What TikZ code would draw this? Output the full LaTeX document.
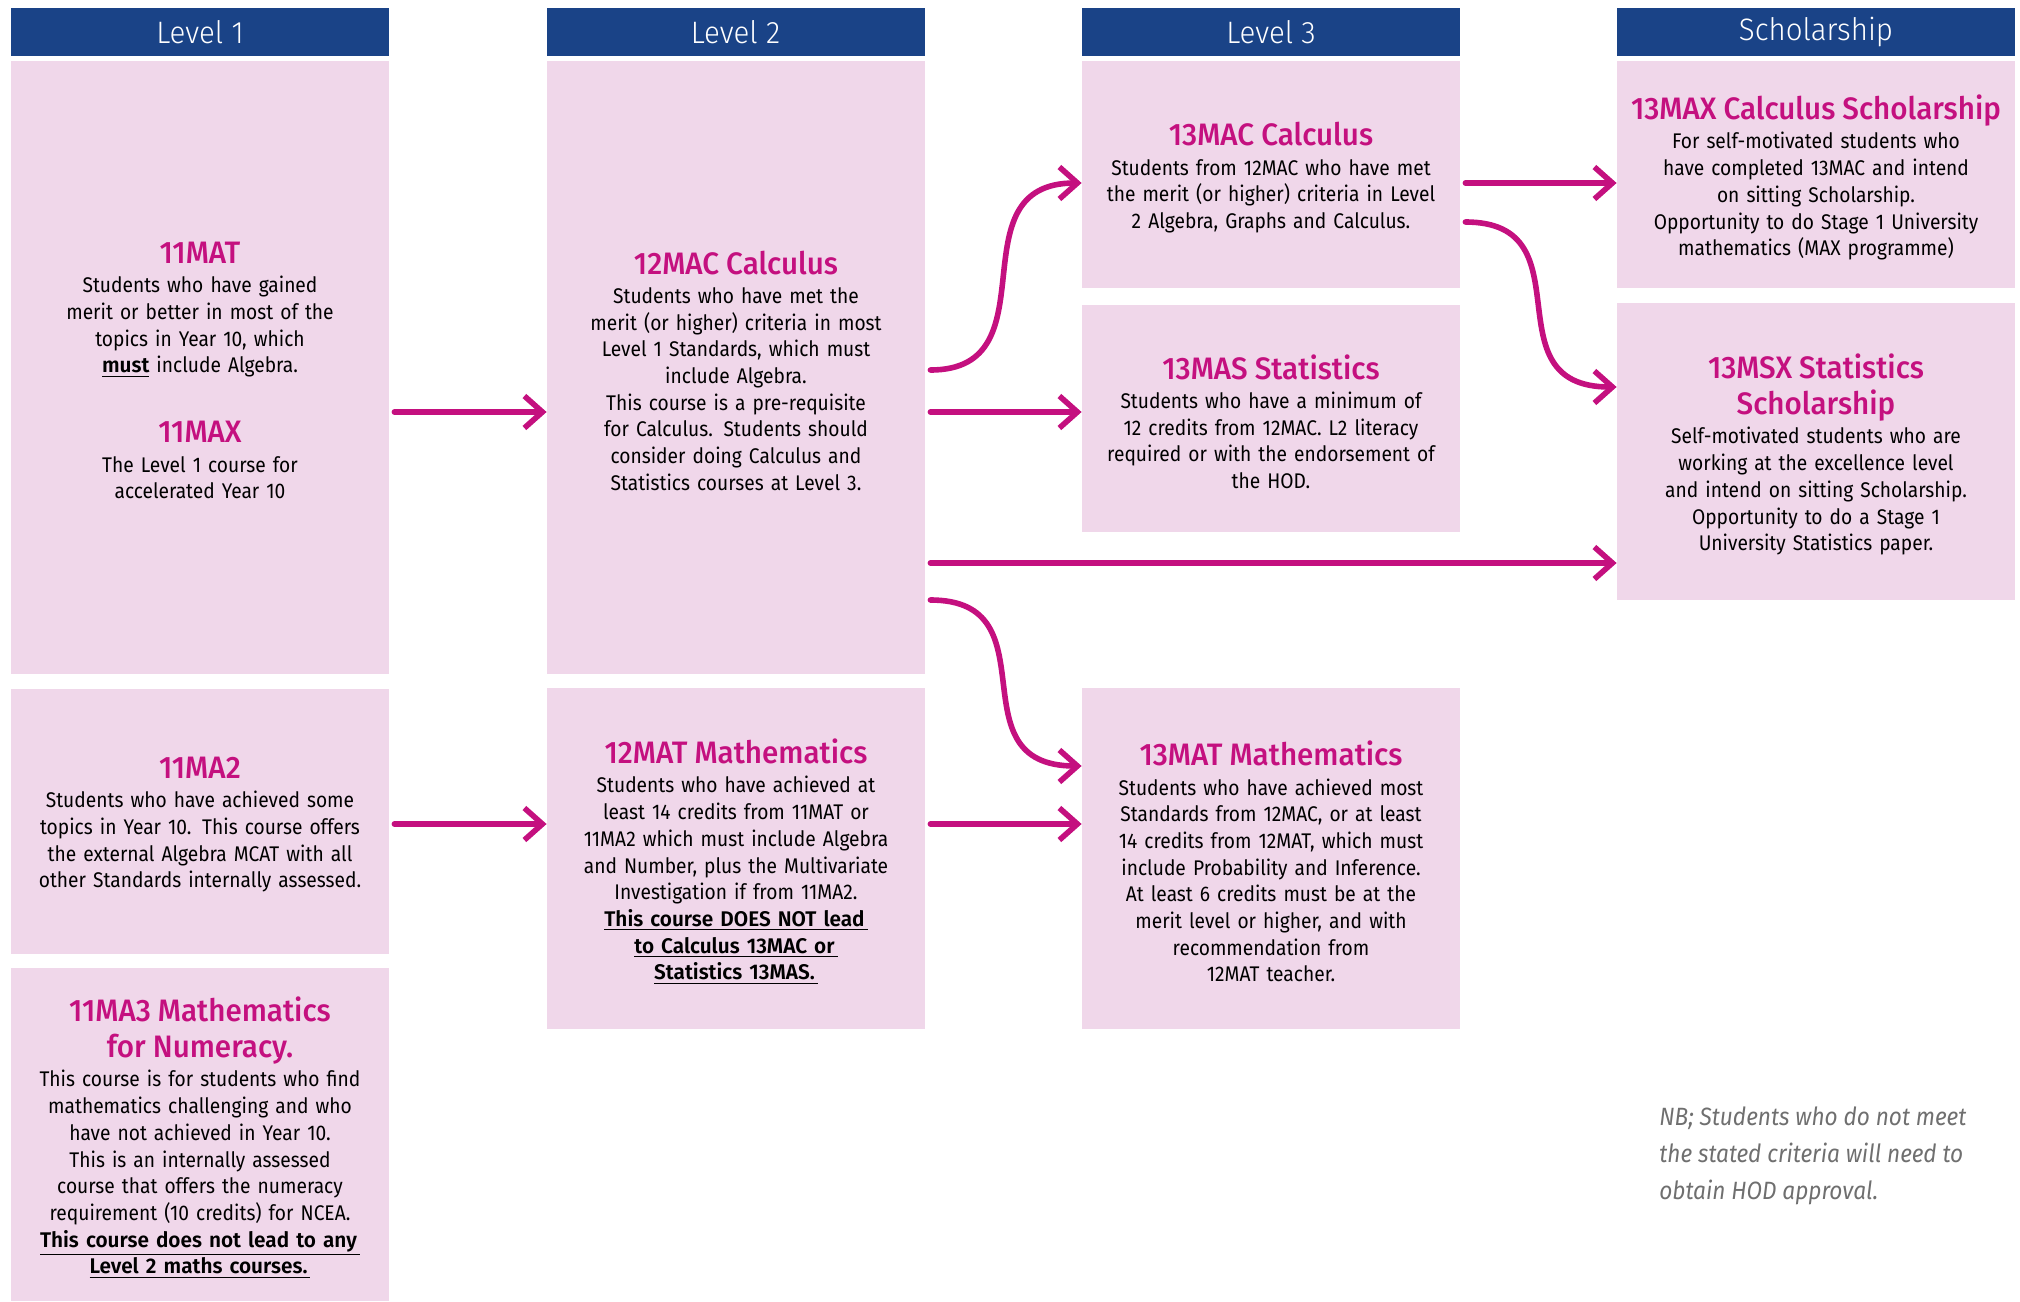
\documentclass[tikz,border=0pt]{standalone}
\usepackage{fontspec}
\setmainfont{Fira Sans}[FakeStretch=0.905]
\newfontfamily\titlefam{Fira Sans Medium}[FakeStretch=0.955]
\newfontfamily\hdrfam{Fira Sans Light}[FakeStretch=0.95]
\newfontfamily\ulfam{Fira Sans SemiBold}[FakeStretch=0.98]
\usetikzlibrary{arrows.meta}
\definecolor{navy}{HTML}{1A4387}
\definecolor{pinkbg}{HTML}{F0D7EA}
\definecolor{mag}{HTML}{C4107F}
\definecolor{nbgray}{HTML}{6F6F6F}
\newcommand\bodyfont{\fontsize{10.6}{13.35}\selectfont}
\newcommand\ttl[1]{{\color{mag}\titlefam\fontsize{15.5}{18}\selectfont #1\par}\vspace{1.2pt}}
\newcommand\ul[1]{\underline{{\ulfam #1}\hspace{1.5pt}}}
\begin{document}
\begin{tikzpicture}[x=0.5pt,y=-0.5pt,
  hdr/.style={fill=navy, text=white, minimum height=24pt, minimum width=189pt, inner sep=0pt, font=\hdrfam\fontsize{15.5}{18}\selectfont},
  colbox/.style={fill=pinkbg, inner sep=0pt, minimum width=189pt},
  schbox/.style={colbox, minimum width=199pt},
  txt/.style={inner sep=0pt, align=center, text width=186pt, font=\bodyfont},
  schtxt/.style={txt, text width=197pt},
  arr/.style={draw=mag, line width=2.8pt, line cap=round, shorten <=2.5pt,
    -{Straight Barb[length=9pt,width=16pt]}}
]
\useasboundingbox (0,0) rectangle (2020,1302);
% headers
\node[hdr] (h1) at (200,32) {Level 1};
\node[hdr] (h2) at (735.5,32) {Level 2};
\node[hdr] (h3) at (1271,32) {Level 3};
\node[hdr, minimum width=199pt] (h4) at (1816,32) {Scholarship};
% boxes
\node[colbox, minimum height=306.5pt] (mat11) at (200,367.5) {};
\node[colbox, minimum height=132.5pt] (ma2) at (200,821.5) {};
\node[colbox, minimum height=166.5pt] (ma3) at (200,1134.5) {};
\node[colbox, minimum height=306.5pt] (mac12) at (736,367.5) {};
\node[colbox, minimum height=170.5pt] (mat12) at (736,858.5) {};
\node[colbox, minimum height=113.5pt] (mac13) at (1271,174.5) {};
\node[colbox, minimum height=113.5pt] (mas13) at (1271,418.5) {};
\node[colbox, minimum height=170.5pt] (mat13) at (1271,858.5) {};
\node[schbox, minimum height=113.5pt] (max13) at (1816,174.5) {};
\node[schbox, minimum height=148.5pt] (msx13) at (1816,451.5) {};
% texts
\node[txt] (mat11t) at ([yshift=-1.6pt]mat11.center) {%
\ttl{11MAT}
Students who have gained\\
merit or better in most of the\\
topics in Year 10, which\\
\underline{\ulfam must} include Algebra.\par
\vspace{17pt}
\ttl{11MAX}
The Level 1 course for\\
accelerated Year 10};
\node[txt] (ma2t) at ([yshift=-1.6pt]ma2.center) {%
\ttl{11MA2}
Students who have achieved some\\
topics in Year 10. This course offers\\
the external Algebra MCAT with all\\
other Standards internally assessed.};
\node[txt] (ma3t) at ([yshift=-1.6pt]ma3.center) {%
\ttl{11MA3 Mathematics\\for Numeracy.}
This course is for students who find\\
mathematics challenging and who\\
have not achieved in Year 10.\\
This is an internally assessed\\
course that offers the numeracy\\
requirement (10 credits) for NCEA.\\
\ul{This course does not lead to any}\\
\ul{Level 2 maths courses.}};
\node[txt] (mac12t) at ([yshift=-1.6pt]mac12.center) {%
\ttl{12MAC Calculus}
Students who have met the\\
merit (or higher) criteria in most\\
Level 1 Standards, which must\\
include Algebra.\\
This course is a pre-requisite\\
for Calculus. Students should\\
consider doing Calculus and\\
Statistics courses at Level 3.};
\node[txt] (mat12t) at ([yshift=-1.6pt]mat12.center) {%
\ttl{12MAT Mathematics}
Students who have achieved at\\
least 14 credits from 11MAT or\\
11MA2 which must include Algebra\\
and Number, plus the Multivariate\\
Investigation if from 11MA2.\\
\ul{This course DOES NOT lead}\\
\ul{to Calculus 13MAC or}\\
\ul{Statistics 13MAS.}};
\node[txt] (mac13t) at ([yshift=-1.6pt]mac13.center) {%
\ttl{13MAC Calculus}
Students from 12MAC who have met\\
the merit (or higher) criteria in Level\\
2 Algebra, Graphs and Calculus.};
\node[txt] (mas13t) at ([yshift=-1.6pt]mas13.center) {%
\ttl{13MAS Statistics}
Students who have a minimum of\\
12 credits from 12MAC. L2 literacy\\
required or with the endorsement of\\
the HOD.};
\node[txt] (mat13t) at ([yshift=-1.6pt]mat13.center) {%
\ttl{13MAT Mathematics}
Students who have achieved most\\
Standards from 12MAC, or at least\\
14 credits from 12MAT, which must\\
include Probability and Inference.\\
At least 6 credits must be at the\\
merit level or higher, and with\\
recommendation from\\
12MAT teacher.};
\node[schtxt] (max13t) at ([yshift=-1.6pt]max13.center) {%
\ttl{13MAX Calculus Scholarship}
For self-motivated students who\\
have completed 13MAC and intend\\
on sitting Scholarship.\\
Opportunity to do Stage 1 University\\
mathematics (MAX programme)};
\node[schtxt] (msx13t) at ([yshift=-1.6pt]msx13.center) {%
\ttl{13MSX Statistics\\Scholarship}
Self-motivated students who are\\
working at the excellence level\\
and intend on sitting Scholarship.\\
Opportunity to do a Stage 1\\
University Statistics paper.};
% note
\node[anchor=west, align=left, inner sep=0pt, text=nbgray,
  font=\fontsize{12.5}{18.5}\selectfont\itshape] (nb) at (1659,1156)
  {NB; Students who do not meet\\the stated criteria will need to\\obtain HOD approval.};
% arrows
\draw[arr] (mat11.east |- 0,412) -- (mac12.west |- 0,412);
\draw[arr] (ma2.east |- 0,824) -- (mat12.west |- 0,824);
\draw[arr] (mac12.east |- 0,412) -- (mas13.west |- 0,412);
\draw[arr] (mac12.east |- 0,563) -- (msx13.west |- 0,563);
\draw[arr] (mat12.east |- 0,824) -- (mat13.west |- 0,824);
\draw[arr] (mac13.east |- 0,183) -- (max13.west |- 0,183);
\draw[arr] (mac12.east |- 0,370) .. controls +(130,0) and +(-130,0) .. (mac13.west |- 0,183);
\draw[arr] (mac12.east |- 0,600) .. controls +(130,0) and +(-130,0) .. (mat13.west |- 0,766);
\draw[arr] (mac13.east |- 0,222) .. controls +(130,0) and +(-130,0) .. (msx13.west |- 0,387);
\end{tikzpicture}
\end{document}
